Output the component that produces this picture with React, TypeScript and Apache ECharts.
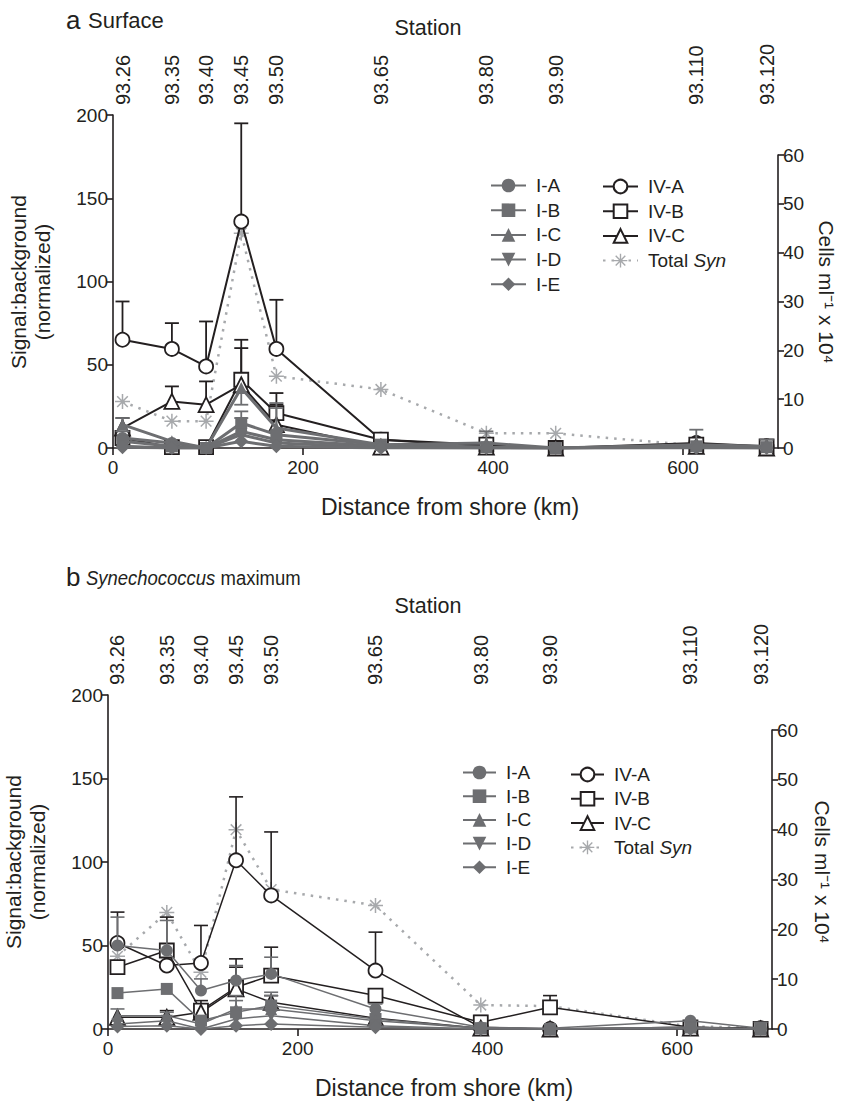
import React, { useEffect, useRef } from 'react';
import * as echarts from 'echarts';

// ---------- shared data ----------
const stations = ['93.26', '93.35', '93.40', '93.45', '93.50', '93.65', '93.80', '93.90', '93.110', '93.120'];
const distanceKm = [10, 62, 98, 135, 172, 282, 393, 466, 614, 688];
const xTickValues = [0, 200, 400, 600];

// ---------- panel a: Surface (Signal:background, normalized) ----------
const surfIA = [6, 3, 0, 10, 5, 1, 0.5, 0, 1, 0.5];
const surfIB = [4, 1, 0, 15, 8, 2, 0.5, 0, 1, 0.5];
const surfIC = [14, 4, 0, 36, 12, 2, 3, 0, 2, 1];
const surfID = [1, 0, 0, 8, 3, 0.5, 0, 0, 0.5, 0];
const surfIE = [0.5, 0, 0, 4, 1, 0, 0, 0, 0, 0];
const surfIVA = [65, 59.5, 49, 136, 59.5, 5, 1, 0, 3, 1];
const surfIVB = [6, 0.5, 0.5, 41, 21, 5, 2, 0, 2, 1];
const surfIVC = [12, 28, 26, 38, 14, 0.5, 0.5, 0, 1, 0];
// Total Syn, cells ml-1 x 10^4
const surfSyn = [9.5, 5.5, 5.5, 44, 14.7, 12, 3, 3, 0.5, 0.3];
// upper ends of error bars (null = none)
const surfErrIVA = [88, 75, 76, 195, 89, null, null, null, null, null];
const surfErrIVB = [null, null, null, 65, 33, 7, null, null, null, null];
const surfErrIVC = [18, 37, 40, 60, 26, null, null, null, null, null];
const surfErrIA = [null, null, null, 18, 10, null, null, null, null, null];
const surfErrIB = [10, null, null, 22, 24, null, null, null, null, null];
const surfErrIC = [18, null, null, 26, 27, null, 10, null, 11, 5];

// ---------- panel b: Synechococcus maximum ----------
const maxIA = [50, 47, 23, 29, 33, 12, 1, 0.5, 5, 0.5];
const maxIB = [21.5, 24, 5, 10, 14, 6, 0.5, 0, 1, 0];
const maxIC = [8, 8, 3, 12, 12, 5, 0.5, 0, 1, 0];
const maxID = [3, 5, 0, 6, 8, 2, 0, 0, 0.5, 0];
const maxIE = [1.5, 2, 0, 2, 3, 1, 0, 0, 0, 0];
const maxIVA = [51.5, 38, 39.5, 101, 80, 35, 1, 0, 1, 0.5];
const maxIVB = [37, 47, 11, 25, 32, 20, 4, 13, 1, 0];
const maxIVC = [7, 7, 10, 24, 16, 6.5, 0.5, 0, 0.5, 0];
const maxSyn = [14.6, 23.4, 11.4, 40, 28, 24.8, 4.8, 4.6, 0.5, 0.3];
const maxErrIVA = [70, 67, 62, 139, 118, 58, null, null, null, null];
const maxErrIVB = [null, 51, 14, 42, 49, null, 8, 20, null, null];
const maxErrIVC = [null, 11, 17, 37, 20, null, null, null, null, null];
const maxErrIA = [67, 65, 30, 38, 43, 15, null, null, null, 4];
const maxErrIB = [null, null, null, 20, 22, null, null, null, null, null];
const maxErrIC = [12, 10, null, 17, 20, null, null, null, null, null];

// ---------- style ----------
const FONT = '"Liberation Sans", Arial, Helvetica, sans-serif';
const BLACK = '#231f20';
const GRAY = '#6d6e71';
const LGRAY = '#a7a9ac';
const ASTERISK =
  'path://M-1,-10L1,-10L1,10L-1,10Z M-10,-1L10,-1L10,1L-10,1Z M-6.36,-7.78L7.78,6.36L6.36,7.78L-7.78,-6.36Z M6.36,-7.78L7.78,-6.36L-6.36,7.78L-7.78,6.36Z';
const DOWN_TRI = 'path://M0,0L2,0L1,1.732Z';

type PanelDef = {
  k: number;
  prefix: string;
  left: number;
  top: number;
  rTop: number;
  width: number;
  bottom: number;
  lwI: number;
  lwIV: number;
  lwErr: number;
  I: number[][];
  IV: number[][];
  syn: number[];
  errIV: (number | null)[][];
  errI: (number | null)[][];
  legend1: { left: number; top: number; gap: number; w: number };
  legend2: { left: number; top: number; gap: number; w: number };
};

const iNames = ['I-A', 'I-B', 'I-C', 'I-D', 'I-E'];
const ivNames = ['IV-A', 'IV-B', 'IV-C'];
const iSymbols = ['circle', 'rect', 'triangle', DOWN_TRI, 'diamond'];
const ivSymbols = ['circle', 'rect', 'triangle'];

function buildPanel(p: PanelDef) {
  const g0 = 2 * p.k;
  const g1 = 2 * p.k + 1;
  const xMain = 3 * p.k;
  const xHidden = 3 * p.k + 2;
  const yLeft = 2 * p.k;
  const yRight = 2 * p.k + 1;

  const grids = [
    { left: p.left, top: p.top, width: p.width, height: p.bottom - p.top },
    { left: p.left, top: p.rTop, width: p.width, height: p.bottom - p.rTop },
  ];

  const axisLineStyle = { color: BLACK, width: 1.6 };
  const xAxes = [
    {
      type: 'value', gridIndex: g0, position: 'bottom', min: 0, max: 700, interval: 200,
      axisLine: { show: true, onZero: false, lineStyle: axisLineStyle },
      axisTick: { show: true, length: 7, customValues: xTickValues, lineStyle: axisLineStyle },
      axisLabel: {
        customValues: xTickValues, fontSize: 19, fontFamily: FONT, color: BLACK, margin: 10,
        formatter: (v: number) => (v > 650 ? '' : String(v)),
      },
      splitLine: { show: false },
    },
    {
      type: 'value', gridIndex: g0, position: 'top', min: 0, max: 700,
      axisLine: { show: false }, axisTick: { show: false }, splitLine: { show: false },
      axisLabel: {
        customValues: distanceKm, rotate: 90, margin: 10, fontSize: 20, fontFamily: FONT, color: BLACK,
        formatter: (v: number) => {
          const i = distanceKm.findIndex((d) => Math.abs(d - v) < 0.01);
          return i >= 0 ? stations[i] : '';
        },
      },
    },
    { type: 'value', gridIndex: g1, min: 0, max: 700, show: false },
  ];

  const yAxes = [
    {
      type: 'value', gridIndex: g0, position: 'left', min: 0, max: 200, interval: 50,
      axisLine: { show: true, onZero: false, lineStyle: axisLineStyle },
      axisTick: { show: true, length: 6, lineStyle: axisLineStyle },
      axisLabel: { fontSize: 19, fontFamily: FONT, color: BLACK, margin: 5 },
      splitLine: { show: false },
    },
    {
      type: 'value', gridIndex: g1, position: 'right', min: 0, max: 60, interval: 10,
      axisLine: { show: true, onZero: false, lineStyle: axisLineStyle },
      axisTick: { show: true, length: 6, lineStyle: axisLineStyle },
      axisLabel: { fontSize: 19, fontFamily: FONT, color: BLACK, margin: 5 },
      splitLine: { show: false },
    },
  ];

  const pts = (vals: number[]) => distanceKm.map((d, i) => [d, vals[i]]);

  const errSeries = (vals: number[], tops: (number | null)[], color: string, z: number, xi: number, yi: number) => ({
    type: 'custom', xAxisIndex: xi, yAxisIndex: yi, silent: true, z,
    data: tops
      .map((t, i) => (t == null ? null : [distanceKm[i], vals[i], t]))
      .filter((d) => d !== null),
    encode: { x: 0, y: [1, 2] },
    renderItem: (_params: any, api: any) => {
      const a = api.coord([api.value(0), api.value(1)]);
      const b = api.coord([api.value(0), api.value(2)]);
      const hw = 7;
      return {
        type: 'group',
        children: [
          { type: 'line', shape: { x1: a[0], y1: a[1], x2: b[0], y2: b[1] }, style: { stroke: color, lineWidth: p.lwErr } },
          { type: 'line', shape: { x1: b[0] - hw, y1: b[1], x2: b[0] + hw, y2: b[1] }, style: { stroke: color, lineWidth: p.lwErr } },
        ],
      };
    },
  });

  const series: any[] = [];
  // Total Syn (right axis)
  series.push({
    type: 'line', name: p.prefix + 'Total Syn', xAxisIndex: xHidden, yAxisIndex: yRight,
    data: pts(p.syn), symbol: ASTERISK, symbolSize: 15, z: 1,
    lineStyle: { color: LGRAY, width: 2.5, type: [2.5, 6] },
    itemStyle: { color: LGRAY },
    emphasis: { disabled: true },
  });
  // IV series error bars + lines (black, open symbols)
  ivNames.forEach((n, i) => {
    series.push(errSeries(p.IV[i], p.errIV[i], BLACK, 2, xMain, yLeft));
  });
  ivNames.forEach((n, i) => {
    series.push({
      type: 'line', name: p.prefix + n, xAxisIndex: xMain, yAxisIndex: yLeft,
      data: pts(p.IV[i]), symbol: ivSymbols[i], symbolSize: i === 2 ? 15 : 14, z: 3,
      lineStyle: { color: BLACK, width: p.lwIV },
      itemStyle: { color: '#ffffff', borderColor: BLACK, borderWidth: 1.8 },
      emphasis: { disabled: true },
    });
  });
  // I series error bars + lines (gray, filled symbols)
  p.errI.forEach((tops, i) => {
    series.push(errSeries(p.I[i], tops, GRAY, 4, xMain, yLeft));
  });
  iNames.forEach((n, i) => {
    series.push({
      type: 'line', name: p.prefix + n, xAxisIndex: xMain, yAxisIndex: yLeft,
      data: pts(p.I[i]), symbol: iSymbols[i], symbolSize: i === 4 ? 14 : 12, z: 5,
      lineStyle: { color: GRAY, width: p.lwI },
      itemStyle: { color: GRAY },
      emphasis: { disabled: true },
    });
  });

  const legendText = {
    fontSize: 19, fontFamily: FONT, color: BLACK, lineHeight: 19, padding: [0, 0, 0, 5],
    rich: { i: { fontSize: 19, fontFamily: FONT, color: BLACK, fontStyle: 'italic', lineHeight: 19 } },
  };
  const fmt = (name: string) => {
    const n = name.slice(2);
    return n === 'Total Syn' ? 'Total {i|Syn}' : n;
  };
  const legends = [
    {
      data: iNames.map((n) => p.prefix + n), orient: 'vertical', left: p.legend1.left, top: p.legend1.top,
      itemWidth: p.legend1.w, itemHeight: 17, itemGap: p.legend1.gap, padding: 0, selectedMode: false,
      formatter: fmt, textStyle: legendText,
    },
    {
      data: [...ivNames.map((n) => p.prefix + n), p.prefix + 'Total Syn'], orient: 'vertical',
      left: p.legend2.left, top: p.legend2.top,
      itemWidth: p.legend2.w, itemHeight: 17, itemGap: p.legend2.gap, padding: 0, selectedMode: false,
      formatter: fmt, textStyle: legendText,
    },
  ];

  return { grids, xAxes, yAxes, series, legends };
}

function txt(x: number, y: number, text: string, fontSize: number, extra: any = {}, rotation = 0) {
  return {
    type: 'text', x, y, rotation, silent: true,
    scaleX: extra.scaleX || 1,
    style: {
      text, fontSize, fontFamily: FONT, fill: BLACK,
      textAlign: extra.align || 'center', textVerticalAlign: 'middle',
      ...(extra.style || {}),
    },
  };
}

function buildOption() {
  const a = buildPanel({
    k: 0, prefix: 'a:', left: 113, top: 115, rTop: 155, width: 665, bottom: 448,
    lwI: 3, lwIV: 2, lwErr: 1.8,
    I: [surfIA, surfIB, surfIC, surfID, surfIE],
    IV: [surfIVA, surfIVB, surfIVC],
    syn: surfSyn,
    errIV: [surfErrIVA, surfErrIVB, surfErrIVC],
    errI: [surfErrIA, surfErrIB, surfErrIC],
    legend1: { left: 490, top: 176, gap: 5.7, w: 35 },
    legend2: { left: 602, top: 177, gap: 5.7, w: 35 },
  });
  const b = buildPanel({
    k: 1, prefix: 'b:', left: 108, top: 695, rTop: 730, width: 664, bottom: 1029,
    lwI: 1.5, lwIV: 1.5, lwErr: 1.6,
    I: [maxIA, maxIB, maxIC, maxID, maxIE],
    IV: [maxIVA, maxIVB, maxIVC],
    syn: maxSyn,
    errIV: [maxErrIVA, maxErrIVB, maxErrIVC],
    errI: [maxErrIA, maxErrIB, maxErrIC],
    legend1: { left: 462, top: 763, gap: 4.7, w: 33 },
    legend2: { left: 570, top: 765, gap: 5.3, w: 33 },
  });

  const graphic = [
    txt(66, 20, 'a', 26, { align: 'left' }),
    txt(88, 20, 'Surface', 22, { align: 'left' }),
    txt(428, 28, 'Station', 21.5),
    txt(450, 507, 'Distance from shore (km)', 23),
    txt(30, 282, 'Signal:background\n(normalized)', 21, { style: { lineHeight: 24 } }, Math.PI / 2),
    txt(826, 292, 'Cells ml⁻¹ x 10⁴', 21, {}, -Math.PI / 2),

    txt(66, 577, 'b', 26, { align: 'left' }),
    {
      type: 'text', x: 86, y: 578, silent: true, scaleX: 0.88,
      style: {
        text: '{i|Synechococcus} maximum', fontSize: 21, fontFamily: FONT, fill: BLACK,
        textAlign: 'left', textVerticalAlign: 'middle',
        rich: { i: { fontStyle: 'italic', fontSize: 21, fontFamily: FONT, fill: BLACK } },
      },
    },
    txt(428, 606, 'Station', 21.5),
    txt(444, 1088, 'Distance from shore (km)', 23),
    txt(25, 862, 'Signal:background\n(normalized)', 21, { style: { lineHeight: 24 } }, Math.PI / 2),
    txt(822, 872, 'Cells ml⁻¹ x 10⁴', 21, {}, -Math.PI / 2),
  ];

  return {
    animation: false,
    backgroundColor: '#ffffff',
    textStyle: { fontFamily: FONT },
    grid: [...a.grids, ...b.grids],
    xAxis: [...a.xAxes, ...b.xAxes],
    yAxis: [...a.yAxes, ...b.yAxes],
    legend: [...a.legends, ...b.legends],
    series: [...a.series, ...b.series],
    graphic,
  };
}

export default function App() {
  const ref = useRef<HTMLDivElement>(null);
  useEffect(() => {
    document.body.style.margin = '0';
    const chart = echarts.init(ref.current!, null, { renderer: 'svg' });
    chart.setOption(buildOption() as any);
    return () => chart.dispose();
  }, []);
  return <div ref={ref} style={{ width: 844, height: 1107 }} />;
}
